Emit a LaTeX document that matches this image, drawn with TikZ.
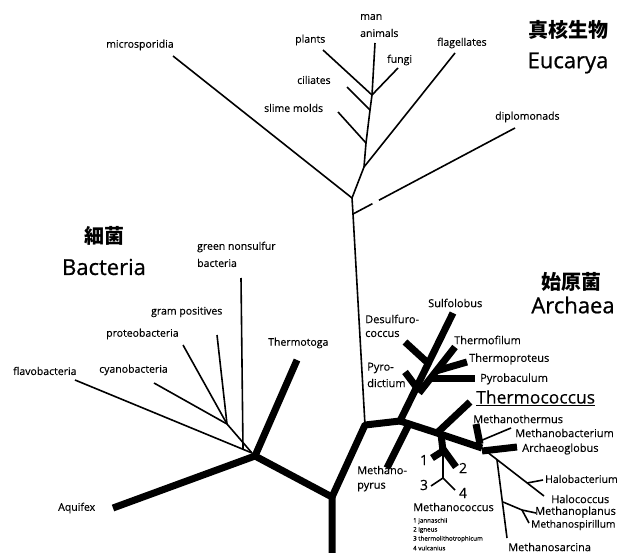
\documentclass[tikz,border=0pt]{standalone}
\usepackage{fontspec}
\setmainfont{Open Sans}
\newfontface\labfont{Open Sans}[FakeBold=0.25]
\newfontface\medfont{Open Sans}[FakeBold=0.8]
\newfontfamily\cjk{Noto Sans CJK JP}
\usetikzlibrary{calc}
\tikzset{
  thin line/.style={line width=1.6pt, line cap=butt, line join=round},
  thick line/.style={line width=7pt, line cap=butt, line join=round},
  lab/.style={inner sep=0pt, anchor=west, font=\labfont\fontsize{10.5}{12}\selectfont},
  alab/.style={inner sep=0pt, anchor=west, font=\labfont\fontsize{11}{13}\selectfont},
  big/.style={inner sep=0pt, anchor=center, font=\medfont\fontsize{22}{25}\selectfont},
  cjklab/.style={inner sep=0pt, anchor=center, font=\cjk\bfseries\fontsize{20}{24}\selectfont},
  num/.style={inner sep=0pt, anchor=center, font=\labfont\fontsize{14}{16}\selectfont},
  tiny/.style={inner sep=0pt, anchor=west, font=\labfont\fontsize{6.2}{7}\selectfont},
}
\begin{document}
\begin{tikzpicture}[x=1pt,y=-1pt]
\useasboundingbox (0,0) rectangle (618,553);
% ---------- Eucarya coordinates
\coordinate (eA) at (372,95);
\coordinate (eMan) at (375,43);
\coordinate (ePl) at (323,50);
\coordinate (eFu) at (398,68);
\coordinate (eCi0) at (370,110);
\coordinate (eCi) at (347,87);
\coordinate (eSl0) at (366,143);
\coordinate (eSl) at (338,112);
\coordinate (eF) at (364,167);
\coordinate (eFl) at (455,53);
\coordinate (eM) at (352,198);
\coordinate (eMi) at (173,56);
\coordinate (eD) at (353,214);
\coordinate (eDi) at (515,128);
\coordinate (r) at (365,425);
% ---------- Bacteria coordinates
\coordinate (bJ) at (252,453);
\coordinate (bA) at (255,456);
\coordinate (bAq) at (113,508);
\coordinate (bTh) at (297,360);
\coordinate (bK) at (332,497);
\coordinate (bBot) at (332,560);
\coordinate (bGr) at (241,278);
\coordinate (bGrB) at (243,449);
\coordinate (bG2) at (227,424);
\coordinate (bGp) at (217,335);
\coordinate (bPr) at (183,345);
\coordinate (bCy) at (154,383);
\coordinate (bFl) at (75,380);
% ---------- Archaea coordinates
\coordinate (aJ) at (400,421);
\coordinate (cTop) at (453,313);
\coordinate (cPd0) at (417,388);
\coordinate (cPd) at (405,372);
\coordinate (cDs0) at (429,364);
\coordinate (cDs) at (405,342);
\coordinate (cTf0) at (419,393);
\coordinate (cTf) at (455,347);
\coordinate (cPb0) at (431,378);
\coordinate (cPb) at (475,378);
\coordinate (cTp0) at (436,371);
\coordinate (cTp) at (467,362);
\coordinate (eu1) at (437,433);
\coordinate (eu2) at (482,448);
\coordinate (mp0) at (409,424);
\coordinate (mp) at (387,468);
\coordinate (tc) at (470,402);
\coordinate (mc0) at (441,434);
\coordinate (mc1) at (443,451);
\coordinate (mcA) at (432,458);
\coordinate (mcB) at (456,467);
\coordinate (mc2) at (443,478);
\coordinate (mcC) at (431,486);
\coordinate (mcD) at (455,490);
\coordinate (mt0) at (476,424);
\coordinate (mt1) at (480,444);
\coordinate (mb0) at (480,441);
\coordinate (mb) at (511,428);
\coordinate (ag0) at (482,451);
\coordinate (ag) at (517,447);
\coordinate (hl) at (544,496);
\coordinate (hb0) at (527,483);
\coordinate (hb) at (543,480);
\coordinate (ms0) at (497,460);
\coordinate (ms) at (507,538);
\coordinate (mpl0) at (503,502);
\coordinate (mpl1) at (522,510);
\coordinate (mpl) at (536,513);
\coordinate (msp) at (529,523);
% ---------- Eucarya branches
\draw[thin line] (eMan) -- (eA) -- (eCi0) -- (eSl0) -- (eF) -- (eM) -- (eD) -- (r);
\draw[thin line] (ePl) -- (eA);
\draw[thin line] (eFu) -- (eA);
\draw[thin line] (eCi) -- (eCi0);
\draw[thin line] (eSl) -- (eSl0);
\draw[thin line] (eF) -- (eFl);
\draw[thin line] (eMi) -- (eM);
\draw[thin line] (eD) -- ($(eD)!0.12!(eDi)$);
\draw[thin line] ($(eD)!0.16!(eDi)$) -- (eDi);
% ---------- Bacteria branches
\draw[thin line] (bGr) -- (bGrB);
\draw[thin line] (bGp) -- (bG2);
\draw[thin line] (bPr) -- (bG2);
\draw[thin line] (bCy) -- (bG2) -- (bJ);
\draw[thin line] (bFl) -- (bJ);
\draw[thick line] (bAq) -- (bA) -- (bK) -- (bBot);
\draw[thick line] (bA) -- (bTh);
\draw[thick line] (bK) -- (r) -- (aJ);
% ---------- Archaea branches
\draw[thick line] (aJ) -- (cTop);
\draw[thick line] (cPd) -- (cPd0);
\draw[thick line] (cDs) -- (cDs0);
\draw[thick line] (cTf0) -- (cTf);
\draw[thick line] (cPb0) -- (cPb);
\draw[thick line] (cTp0) -- (cTp);
\draw[thick line] (aJ) -- (eu1) -- (eu2);
\draw[thick line] (mp0) -- (mp);
\draw[thick line] (eu1) -- (tc);
\draw[thick line] (mc0) -- (mc1);
\draw[thick line] (446,449) -- (mcA);
\draw[thick line] (443,449) -- (mcB);
\draw[thin line] (mc1) -- (mc2);
\draw[thin line] (mcC) -- (mc2) -- (mcD);
\draw[thick line] (mt0) -- (mt1);
\draw[thin line] (mb0) -- (mb);
\draw[thick line] (ag0) -- (ag);
\draw[thin line] (eu2) -- (hl);
\draw[thin line] (hb0) -- (hb);
\draw[thin line] (ms0) -- (ms);
\draw[thin line] (mpl0) -- (mpl1) -- (mpl);
\draw[thin line] (mpl1) -- (msp);
% ---------- Eucarya labels
\node[lab] (tMan) at (360,17) {man};
\node[lab] (tAni) at (360,33) {animals};
\node[lab] (tPl) at (295,40) {plants};
\node[lab] (tFu) at (387,60) {fungi};
\node[lab] (tCi) at (297,80) {ciliates};
\node[lab] (tSl) at (264,108) {slime molds};
\node[lab] (tMi) at (106,45) {microsporidia};
\node[lab] (tFl) at (437,43) {flagellates};
\node[lab] (tDi) at (495,117) {diplomonads};
\node[cjklab] (tEuJ) at (568,30) {真核生物};
\node[big] (tEu) at (568,63) {Eucarya};
% ---------- Bacteria labels
\node[cjklab] (tBaJ) at (104,236) {細菌};
\node[big] (tBa) at (104,267) {Bacteria};
\node[lab] (tGn1) at (197,247) {green nonsulfur};
\node[lab] (tGn2) at (197,263) {bacteria};
\node[lab] (tGp) at (151,312) {gram positives};
\node[lab] (tPr) at (106,334) {proteobacteria};
\node[lab] (tTt) at (268,343) {Thermotoga};
\node[lab] (tFv) at (13,371) {flavobacteria};
\node[lab] (tCy) at (99,370) {cyanobacteria};
\node[lab] (tAq) at (58,508) {Aquifex};
% ---------- Archaea labels
\node[cjklab] (tArJ) at (571,282) {始原菌};
\node[big] (tAr) at (573,305) {Archaea};
\node[alab] (tMp1) at (357,470) {Methano-};
\node[alab] (tMp2) at (357,487) {pyrus};
\node[alab] (tSu) at (428,303) {Sulfolobus};
\node[alab] (tDs1) at (365,319) {Desulfuro-};
\node[alab] (tDs2) at (365,334) {coccus};
\node[alab] (tTf) at (454,340) {Thermofilum};
\node[alab] (tTp) at (469,359) {Thermoproteus};
\node[alab] (tPb) at (480,379) {Pyrobaculum};
\node[alab] (tPd1) at (367,368) {Pyro-};
\node[alab] (tPd2) at (367,383) {dictium};
\node[inner sep=0pt, anchor=west, font=\labfont\fontsize{17.5}{20}\selectfont] (tTc) at (476,398) {\underline{Thermococcus}};
\node[alab] (tMt) at (473,419) {Methanothermus};
\node[alab] (tMb) at (515,433) {Methanobacterium};
\node[alab] (tAg) at (522,449) {Archaeoglobus};
\node[alab, font=\labfont\fontsize{10.5}{12}\selectfont] (tHb) at (545,479) {Halobacterium};
\node[alab] (tHc) at (551,499) {Halococcus};
\node[alab] (tMpl) at (535,512) {Methanoplanus};
\node[alab, font=\labfont\fontsize{10.2}{12}\selectfont] (tMsp) at (531,525) {Methanospirillum};
\node[alab] (tMs) at (508,547) {Methanosarcina};
\node[alab] (tMc) at (413,507) {Methanococcus};
\node[tiny] (tM1) at (413,521) {1 jannaschii};
\node[tiny] (tM2) at (413,530) {2 igneus};
\node[tiny] (tM3) at (413,539) {3 thermolithotrophicum};
\node[tiny] (tM4) at (413,548) {4 vulcanius};
\node[num] (n1) at (424,460) {1};
\node[num] (n2) at (463,468) {2};
\node[num] (n3) at (424,485) {3};
\node[num] (n4) at (463,493) {4};
\end{tikzpicture}
\end{document}
